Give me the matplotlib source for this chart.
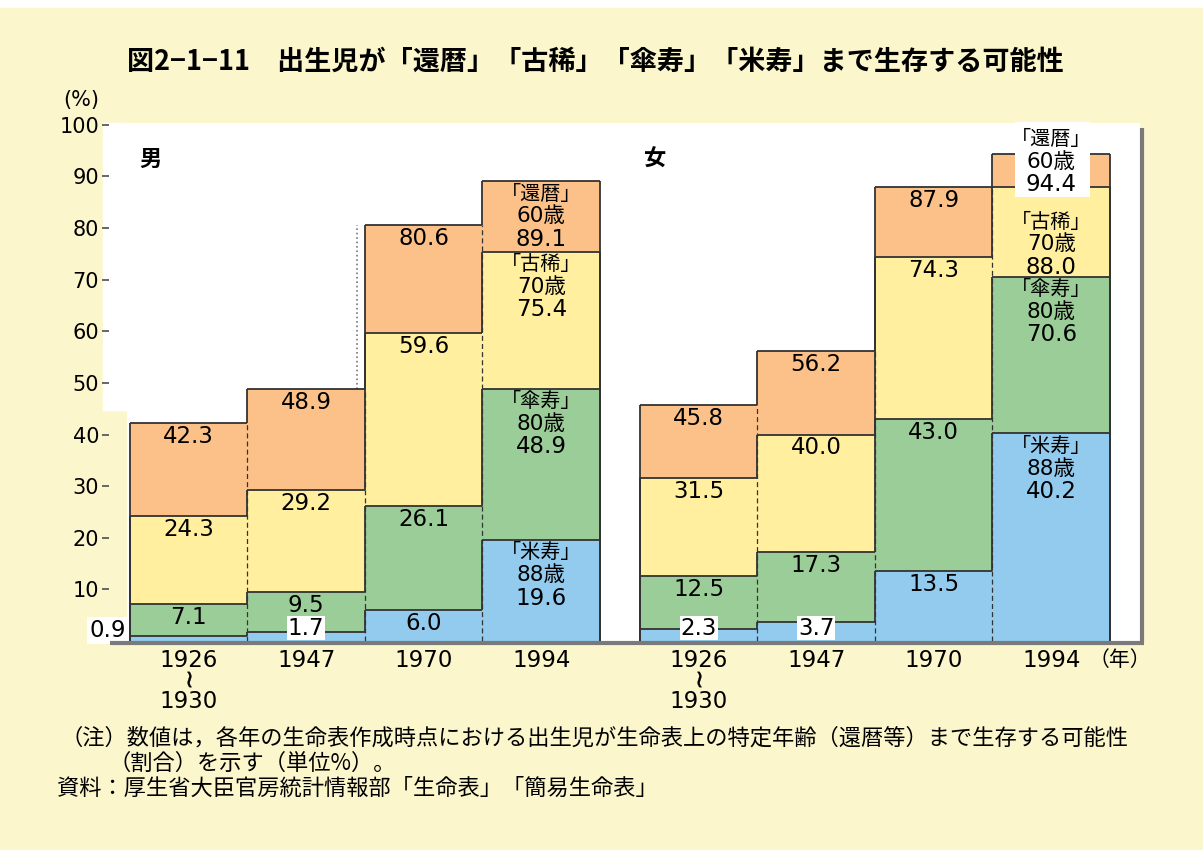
import numpy as np
import matplotlib.pyplot as plt
from matplotlib.patches import Rectangle
from matplotlib.lines import Line2D

plt.rcParams['font.family'] = ['DejaVu Sans', 'Noto Sans CJK JP']
JP = ['Noto Sans CJK JP', 'DejaVu Sans']

W, H = 1203, 850

years = ['1926', '1947', '1970', '1994']
age_names = ['「還暦」', '「古稀」', '「傘寿」', '「米寿」']
age_years = ['60歳', '70歳', '80歳', '88歳']

# share of newborns surviving to 60, 70, 80, 88 (%)
male_60 = [42.3, 48.9, 80.6, 89.1]
male_70 = [24.3, 29.2, 59.6, 75.4]
male_80 = [7.1, 9.5, 26.1, 48.9]
male_88 = [0.9, 1.7, 6.0, 19.6]

female_60 = [45.8, 56.2, 87.9, 94.4]
female_70 = [31.5, 40.0, 74.3, 88.0]
female_80 = [12.5, 17.3, 43.0, 70.6]
female_88 = [2.3, 3.7, 13.5, 40.2]

colors = ['#FBC189', '#FFEF9F', '#9BCD98', '#92CBEE']
line_col = '#333333'
fs_num = 16.5


def fx(x):
    return x / W


def fy(y):
    return 1 - y / H


def stack_label(ax, x, y, k, v, top_off=9.4):
    # three-line label: name, age, value
    ax.annotate(age_names[k], (x, y), xytext=(0, -top_off), textcoords='offset points',
                ha='center', va='center', fontsize=14.5, family=JP, zorder=6)
    ax.annotate(age_years[k], (x, y), xytext=(0, -top_off - 16), textcoords='offset points',
                ha='center', va='center', fontsize=15.5, zorder=6)
    ax.annotate(f'{v:.1f}', (x, y), xytext=(0, -top_off - 32.5), textcoords='offset points',
                ha='center', va='center', fontsize=fs_num, zorder=6)


fig = plt.figure(figsize=(W / 100, H / 100), dpi=100)
fig.patch.set_facecolor('white')
fig.add_artist(Rectangle((0, 0), 1, fy(8), transform=fig.transFigure,
                         color='#FCF6CC', zorder=-10))
# white margin left of the plot box
fig.add_artist(Rectangle((fx(103), fy(410)), fx(24), fy(123) - fy(410),
                         transform=fig.transFigure, color='white', zorder=-5))

ax = fig.add_axes([fx(127), fy(641), fx(1140 - 127), fy(123) - fy(641)])
ax.set_facecolor('white')
ax.set_xlim(-0.5 - 3 / 117.5, -0.5 + 1010 / 117.5)
ax.set_ylim(0, 100.35)
for s in ['top', 'right', 'bottom']:
    ax.spines[s].set_visible(False)
ax.spines['left'].set_position(('outward', 13))
ax.spines['left'].set_visible(False)
ax.set_yticks(np.arange(10, 101, 10))
ax.tick_params(axis='y', direction='out', length=5, width=1.4, color='#666666',
               pad=2, labelsize=15)
ax.set_xticks([])

# drop shadow of the plot box
fig.add_artist(Line2D([fx(110), fx(1144)], [fy(643), fy(643)], color='#7a7a7a',
                      lw=3, transform=fig.transFigure, solid_capstyle='butt'))
fig.add_artist(Line2D([fx(1142), fx(1142)], [fy(128), fy(643)], color='#7a7a7a',
                      lw=3, transform=fig.transFigure, solid_capstyle='butt'))

panels = [(0.0, [male_60, male_70, male_80, male_88]),
          (4.34, [female_60, female_70, female_80, female_88])]

for x0, layers in panels:
    xs = x0 + np.arange(4)
    for vals, col in zip(layers, colors):
        ax.bar(xs, vals, width=1.0, color=col, linewidth=0, zorder=1)
    top = layers[0]
    for i in range(3):
        ax.vlines(xs[i] + 0.5, 0, min(top[i], top[i + 1]), colors=line_col,
                  linestyles=(0, (4, 2.5)), lw=0.9, zorder=2)
    for vals in layers:
        ax.hlines(vals, xs - 0.5, xs + 0.5, colors=line_col, lw=1.3, zorder=3)
        ax.vlines(xs[0] - 0.5, 0, vals[0], colors=line_col, lw=1.3, zorder=3)
        ax.vlines(xs[-1] + 0.5, 0, vals[-1], colors=line_col, lw=1.3, zorder=3)
        for i in range(3):
            ax.vlines(xs[i] + 0.5, min(vals[i], vals[i + 1]), max(vals[i], vals[i + 1]),
                      colors=line_col, lw=1.3, zorder=3)

    # value labels, just under the top of each layer
    for k, vals in enumerate(layers):
        for i, v in enumerate(vals):
            if i == 3:
                if x0 > 0 and k == 0:
                    # no room inside: white panel above the bar
                    ax.add_patch(Rectangle((7.03, 86.0), 0.64, 14.5, facecolor='white',
                                           edgecolor='none', zorder=5, clip_on=False))
                    stack_label(ax, xs[i], 100.35, k, v, top_off=12)
                elif x0 > 0 and k == 1:
                    stack_label(ax, xs[i], v, k, v, top_off=25.5)
                else:
                    stack_label(ax, xs[i], v, k, v)
                continue
            txt = f'{v:.1f}'
            if v < 5:
                # too thin for a label inside, sit it on a white box
                if x0 == 0 and i == 0:
                    ax.text(-0.5 - 4 / 117.5, 2.1, txt, ha='right', va='center',
                            fontsize=fs_num, zorder=5,
                            bbox=dict(fc='white', ec='none', pad=1.5))
                else:
                    ax.text(xs[i], 2.5, txt, ha='center', va='center', fontsize=fs_num,
                            zorder=5, bbox=dict(fc='white', ec='none', pad=0.5))
                continue
            ax.annotate(txt, (xs[i], v), xytext=(0, -9.7), textcoords='offset points',
                        ha='center', va='center', fontsize=fs_num, zorder=5)

    # year labels below the axis
    for i, yr in enumerate(years):
        ax.annotate(yr, (xs[i], 0), xycoords=('data', 'axes fraction'),
                    xytext=(0, -13.7), textcoords='offset points',
                    ha='center', va='center', fontsize=fs_num, annotation_clip=False)
    # wavy "through" sign between 1926 and 1930
    ax.plot([xs[0]], [-(679 - 641) / 518], marker=r'$\wr$', ms=11, color='black',
            markeredgewidth=0.3, transform=ax.get_xaxis_transform(), clip_on=False)
    ax.annotate('1930', (xs[0], 0), xycoords=('data', 'axes fraction'),
                xytext=(0, -43.5), textcoords='offset points',
                ha='center', va='center', fontsize=fs_num, annotation_clip=False)

ax.annotate('（年）', (7.66, 0), xycoords=('data', 'axes fraction'),
            xytext=(0, -13.7), textcoords='offset points', family=JP,
            ha='left', va='center', fontsize=15, annotation_clip=False)

# dotted guide beside the 1970 male bar
ax.vlines(1.43, male_60[1], male_60[2], colors='#777777', linestyles=':', lw=1.2, zorder=2)

ax.text(0.012, 0.93, '男', transform=ax.transAxes, fontsize=16, fontweight='bold',
        family=JP, va='center', ha='left')
ax.text(0.51, 0.93, '女', transform=ax.transAxes, fontsize=16, fontweight='bold',
        family=JP, va='center', ha='left')

fig.text(fx(127), fy(62), '図2−1−11　出生児が「還暦」「古稀」「傘寿」「米寿」まで生存する可能性',
         fontsize=19.5, fontweight='bold', family=JP, va='center', ha='left')
fig.text(fx(63), fy(100), '(%)', fontsize=15, va='center', ha='left')

fig.text(fx(60), fy(738), '（注）数値は，各年の生命表作成時点における出生児が生命表上の特定年齢（還暦等）まで生存する可能性',
         fontsize=16, family=JP, va='center', ha='left')
fig.text(fx(108), fy(763), '（割合）を示す（単位%）。', fontsize=16, family=JP,
         va='center', ha='left')
fig.text(fx(57), fy(788), '資料：厚生省大臣官房統計情報部「生命表」「簡易生命表」',
         fontsize=16, family=JP, va='center', ha='left')

fig.savefig('out.png', dpi=100)
